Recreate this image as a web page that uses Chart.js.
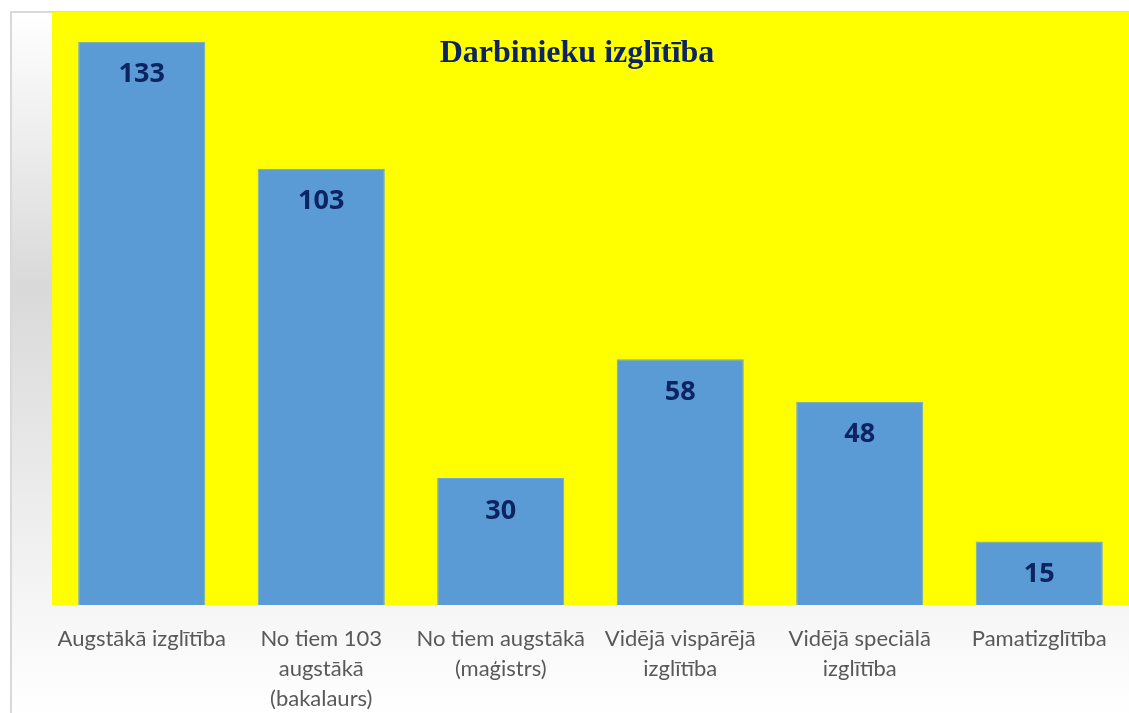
<!DOCTYPE html>
<html>
<head>
<meta charset="utf-8">
<script src="https://cdn.jsdelivr.net/npm/chart.js@4.4.1/dist/chart.umd.min.js"></script>
<style>
  html, body { margin: 0; padding: 0; background: #fff; }
  #wrap { width: 1129px; height: 713px; }
</style>
</head>
<body>
<div id="wrap"><canvas id="myChart"></canvas></div>
<script>
const chartTitle = 'Darbinieku izglītība';
const categories = [
  'Augstākā izglītība',
  ['No tiem 103', 'augstākā', '(bakalaurs)'],
  ['No tiem augstākā', '(maģistrs)'],
  ['Vidējā vispārējā', 'izglītība'],
  ['Vidējā speciālā', 'izglītība'],
  'Pamatizglītība'
];
const values = [133, 103, 30, 58, 48, 15];

const navy = '#0c2461';

// background gradient, border and yellow plot area
const backdrop = {
  id: 'backdrop',
  beforeDraw(chart) {
    const ctx = chart.ctx;
    const w = chart.width, h = chart.height;
    const area = chart.chartArea;
    ctx.save();
    ctx.fillStyle = '#ffffff';
    ctx.fillRect(0, 0, w, h);
    const grad = ctx.createLinearGradient(0, 12, 0, h);
    grad.addColorStop(0, '#ffffff');
    grad.addColorStop(0.39, '#d9d9d9');
    grad.addColorStop(1, '#ffffff');
    ctx.fillStyle = grad;
    ctx.fillRect(11, 12, w - 11, h - 12);
    ctx.strokeStyle = '#d9d9d9';
    ctx.lineWidth = 2;
    ctx.beginPath();
    ctx.moveTo(11, h);
    ctx.lineTo(11, 12);
    ctx.lineTo(w, 12);
    ctx.stroke();
    ctx.fillStyle = '#ffff00';
    ctx.fillRect(area.left, area.top, area.right - area.left, area.bottom - area.top);
    ctx.restore();
  }
};

// title inside the plot and value labels inside the bars
const labelsPlugin = {
  id: 'labelsPlugin',
  afterDatasetsDraw(chart) {
    const ctx = chart.ctx;
    ctx.save();
    ctx.fillStyle = navy;
    ctx.textAlign = 'center';
    ctx.textBaseline = 'alphabetic';
    ctx.font = 'bold 32px "Liberation Serif", "Times New Roman", serif';
    ctx.fillText(chartTitle, 577, 62);

    ctx.font = 'bold 27px "Open Sans", Lato, sans-serif';
    ctx.textBaseline = 'middle';
    chart.getDatasetMeta(0).data.forEach((bar, i) => {
      ctx.fillText(values[i], bar.x, bar.y + 33);
    });
    ctx.restore();
  }
};

const ctx = document.getElementById('myChart').getContext('2d');
const chart = new Chart(ctx, {
  type: 'bar',
  data: {
    labels: categories,
    datasets: [{
      label: 'Darbinieki',
      data: values,
      backgroundColor: '#5b9bd5',
      borderColor: '#6ea6d8',
      borderWidth: 1,
      barPercentage: 0.708,
      categoryPercentage: 1
    }]
  },
  options: {
    responsive: true,
    maintainAspectRatio: false,
    animation: false,
    layout: { padding: { left: 52, top: 12, right: 0, bottom: 0 } },
    plugins: {
      legend: { display: false },
      title: { display: false },
      tooltip: { enabled: false }
    },
    scales: {
      x: {
        grid: { display: false },
        border: { display: false },
        ticks: {
          color: '#595959',
          padding: 11,
          maxRotation: 0,
          autoSkip: false,
          font: { family: "Lato, 'Open Sans', sans-serif", size: 22, lineHeight: 1.36 }
        },
        afterFit(scale) { scale.height = 108; }
      },
      y: {
        display: false,
        min: 0,
        max: 140
      }
    }
  },
  plugins: [backdrop, labelsPlugin]
});
</script>
</body>
</html>
